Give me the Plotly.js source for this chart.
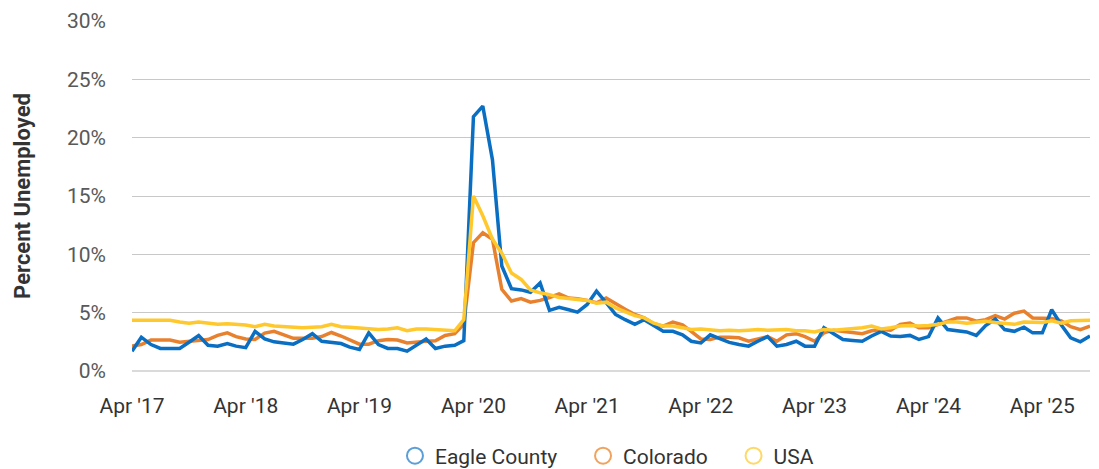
<!DOCTYPE html>
<html>
<head>
<meta charset="utf-8">
<script src="https://cdn.plot.ly/plotly-3.0.1.min.js"></script>
<style>
  html, body { margin: 0; padding: 0; background: #ffffff; }
  #chart { width: 1099px; height: 469px; }
</style>
</head>
<body>
<div id="chart"></div>
<script>
// Monthly series, Apr 2017 through Sep 2025 (percent unemployed)
const startMonth = '2017-04';
const eagleCounty = [
  1.7, 2.9, 2.27, 1.93, 1.93, 1.93, 2.47, 3.04, 2.2, 2.13, 2.35, 2.13,
  2.0, 3.4, 2.75, 2.5, 2.4, 2.3, 2.7, 3.2, 2.55, 2.45, 2.35, 2.05,
  1.84, 3.27, 2.27, 1.93, 1.93, 1.7, 2.2, 2.75, 1.93, 2.13, 2.2, 2.6,
  21.8, 22.7, 18.1, 9.0, 7.05, 6.95, 6.75, 7.55, 5.2, 5.45, 5.25, 5.05,
  5.7, 6.85, 5.85, 4.85, 4.4, 4.0, 4.4, 3.9, 3.4, 3.4, 3.1, 2.55,
  2.4, 3.1, 2.75, 2.45, 2.27, 2.13, 2.55, 2.95, 2.13, 2.27, 2.55, 2.13,
  2.13, 3.7, 3.2, 2.7, 2.62, 2.55, 3.0, 3.4, 3.0, 2.95, 3.05, 2.7,
  2.95, 4.55, 3.55, 3.45, 3.35, 3.05, 3.9, 4.45, 3.55, 3.4, 3.75, 3.27,
  3.27, 5.25, 3.95, 2.85, 2.5, 3.0
];
const colorado = [
  2.13, 2.27, 2.65, 2.65, 2.65, 2.47, 2.55, 2.65, 2.7, 3.05, 3.27, 2.95,
  2.75, 2.7, 3.25, 3.4, 3.1, 2.8, 2.8, 2.8, 2.95, 3.3, 3.0, 2.7,
  2.3, 2.3, 2.6, 2.7, 2.65, 2.4, 2.5, 2.55, 2.6, 3.05, 3.2, 4.0,
  11.0, 11.85, 11.3, 7.0, 6.0, 6.2, 5.9, 6.05, 6.3, 6.6, 6.25, 6.2,
  6.05, 5.85, 6.25, 5.75, 5.3, 4.85, 4.55, 4.05, 3.85, 4.2, 3.95, 3.4,
  2.75, 2.7, 2.9, 2.9, 2.85, 2.55, 2.75, 2.95, 2.55, 3.1, 3.2, 2.95,
  2.55, 3.27, 3.5, 3.4, 3.35, 3.2, 3.45, 3.55, 3.5, 4.0, 4.1, 3.7,
  3.7, 3.95, 4.27, 4.55, 4.55, 4.27, 4.4, 4.75, 4.45, 4.95, 5.13, 4.55,
  4.55, 4.5, 4.3, 3.8, 3.55, 3.85
];
const usa = [
  4.35, 4.35, 4.3, 4.3, 4.35, 4.2, 4.1, 4.2, 4.1, 4.0, 4.05, 4.0,
  3.95, 3.8, 4.0, 3.85, 3.8, 3.7, 3.7, 3.75, 3.8, 4.0, 3.8, 3.75,
  3.7, 3.65, 3.55, 3.6, 3.7, 3.45, 3.6, 3.6, 3.55, 3.5, 3.45, 4.4,
  15.0, 13.3, 11.3, 10.1, 8.4, 7.85, 6.95, 6.7, 6.55, 6.3, 6.2, 6.15,
  6.05, 5.8, 5.9, 5.4, 5.1, 4.75, 4.55, 4.1, 3.85, 3.85, 3.7, 3.55,
  3.6, 3.5, 3.45, 3.5, 3.45, 3.5, 3.55, 3.5, 3.5, 3.55, 3.45, 3.45,
  3.35, 3.55, 3.5, 3.55, 3.62, 3.7, 3.85, 3.6, 3.7, 3.85, 3.9, 3.85,
  3.9, 4.0, 4.2, 4.2, 4.1, 4.2, 4.27, 4.15, 4.05, 4.0, 4.2, 4.2,
  4.15, 4.3, 4.1, 4.3, 4.3, 4.35
];
const seriesNames = ['Eagle County', 'Colorado', 'USA'];
const lineColors = ['#0a6fc2', '#e8812e', '#ffc82c'];
const legendColors = ['#5b9fd8', '#f0a35e', '#ffd866'];
const tickDates = ['2017-04-01','2018-04-01','2019-04-01','2020-04-01','2021-04-01',
                   '2022-04-01','2023-04-01','2024-04-01','2025-04-01'];
const tickLabels = ["Apr '17","Apr '18","Apr '19","Apr '20","Apr '21",
                    "Apr '22","Apr '23","Apr '24","Apr '25"];
const yTickVals = [0, 5, 10, 15, 20, 25, 30];
const yTickText = ['0%', '5%', '10%', '15%', '20%', '25%', '30%'];

// month axis values
const months = [];
(function () {
  let y = parseInt(startMonth.slice(0, 4), 10), m = parseInt(startMonth.slice(5), 10);
  for (let i = 0; i < eagleCounty.length; i++) {
    months.push(y + '-' + String(m).padStart(2, '0') + '-01');
    m++; if (m > 12) { m = 1; y++; }
  }
})();

const seriesData = [eagleCounty, colorado, usa];
const drawOrder = [1, 0, 2];
const traces = [];
drawOrder.forEach(function (i) {
  traces.push({
    type: 'scatter', mode: 'lines', x: months, y: seriesData[i],
    name: seriesNames[i], showlegend: false,
    line: { color: lineColors[i], width: 3.5 },
    hoverinfo: 'x+y+name'
  });
});
// legend entries (open circle symbols); trailing no-break spaces widen the gap between entries
const legendPad = '\u00a0\u00a0\u00a0\u00a0';
[0, 1, 2].forEach(function (i) {
  traces.push({
    type: 'scatter', mode: 'markers', x: [null], y: [null],
    name: seriesNames[i] + (i < 2 ? legendPad : ''), showlegend: true,
    marker: { symbol: 'circle-open', size: 22, color: legendColors[i], line: { width: 2, color: legendColors[i] } }
  });
});

const layout = {
  width: 1099, height: 469,
  margin: { l: 132, r: 9, t: 21, b: 98, autoexpand: false },
  paper_bgcolor: '#ffffff', plot_bgcolor: '#ffffff',
  font: { family: 'Roboto, "Noto Sans", sans-serif', size: 21, color: '#333333' },
  showlegend: true,
  legend: {
    orientation: 'h', x: 0.2745, xanchor: 'left', y: -0.243, yanchor: 'middle',
    font: { size: 21, color: '#333333' }, itemsizing: 'trace', traceorder: 'normal'
  },
  xaxis: {
    type: 'date', range: ['2017-04-01', '2025-09-01'],
    tickmode: 'array', tickvals: tickDates, ticktext: tickLabels,
    showgrid: false, zeroline: false, showline: false, ticks: '',
    ticklabelstandoff: 20,
    tickfont: { size: 21, color: '#333333' }
  },
  yaxis: {
    range: [0, 30], tickmode: 'array', tickvals: yTickVals, ticktext: yTickText,
    showgrid: true, gridcolor: '#c8c8c8', gridwidth: 1,
    zeroline: true, zerolinecolor: '#dadada', zerolinewidth: 2,
    showline: false, ticks: '',
    ticklabelstandoff: 25,
    tickfont: { size: 21, color: '#595959' },
    title: { text: 'Percent Unemployed', font: { size: 22, color: '#333333', weight: 'bold' }, standoff: 30 }
  }
};

Plotly.newPlot('chart', traces, layout, { displayModeBar: false, staticPlot: true });
</script>
</body>
</html>
